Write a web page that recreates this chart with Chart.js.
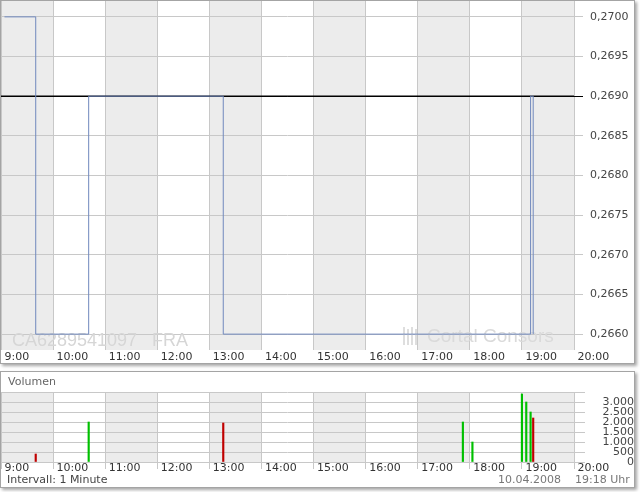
<!DOCTYPE html>
<html><head><meta charset="utf-8">
<script src="https://cdn.jsdelivr.net/npm/chart.js@4.4.1/dist/chart.umd.min.js"></script>
<style>
body{margin:0;background:#fff;font-family:"DejaVu Sans",sans-serif;}
.panel{position:absolute;left:0;border:1px solid #a4a4a4;box-shadow:2px 2px 3px rgba(0,0,0,0.35);background:#fff;}
#p1{top:0;width:633px;height:362px;}
#p2{top:371px;width:633px;height:115px;}
canvas{position:absolute;left:0;top:0;}
.lbl{position:absolute;font-size:11px;color:#555;white-space:nowrap;line-height:13px;}
</style></head><body>
<div class="panel" id="p1"><canvas id="c1" width="633" height="362"></canvas></div>
<div class="panel" id="p2"><canvas id="c2" width="633" height="115"></canvas>
<div class="lbl" style="left:7px;top:3px;color:#666">Volumen</div>
<div class="lbl" style="left:6px;top:101px;color:#444">Intervall: 1 Minute</div>
<div class="lbl" style="left:497px;top:101px;color:#777">10.04.2008</div>
<div class="lbl" style="left:574px;top:101px;color:#777">19:18 Uhr</div>
</div>
<script>
const hourTicks = [9,10,11,12,13,14,15,16,17,18,19,20];
const priceTimes = ['9:04','9:40','10:41','13:16','19:10','19:13'];
const priceValues = [0.2700,0.2660,0.2690,0.2660,0.2690,0.2660];
const refTimes = ['9:00','20:00'];
const refValues = [0.2690,0.2690];
const priceTicks = [0.2660,0.2665,0.2670,0.2675,0.2680,0.2685,0.2690,0.2695,0.2700];
const volTimes = ['9:40','10:41','13:16','17:52','18:03','19:00','19:05','19:10','19:13'];
const volValues = [400,2000,1950,2000,1000,3400,3000,2500,2200];
const volSide = ['down','up','down','up','up','up','up','up','down'];
const volTicks = [0,500,1000,1500,2000,2500,3000];
const isin = 'CA6289541097';
const exchange = 'FRA';

function toHour(s){const [h,m]=s.split(':').map(Number);return h+m/60;}
function fmtHour(v){return ' '+v+':00';}
function fmtVol(v){return String(v).replace(/\B(?=(\d{3})+(?!\d))/g,'.');}
function noPad(s){s.paddingTop=0;s.paddingBottom=0;s.paddingLeft=0;s.paddingRight=0;}

Chart.defaults.font.family='"DejaVu Sans", sans-serif';
Chart.defaults.font.size=11;
Chart.defaults.color='#333';
Chart.defaults.animation=false;

const bandPlugin={id:'bands',beforeDraw(chart){
  const {ctx,chartArea:a,scales:{x}}=chart;
  ctx.save();ctx.fillStyle='#ececec';
  for(let i=0;i<hourTicks.length-1;i+=2){
    const x0=Math.round(x.getPixelForValue(hourTicks[i])),x1=Math.round(x.getPixelForValue(hourTicks[i+1]));
    ctx.fillRect(x0,a.top,x1-x0,a.bottom-a.top);
  }
  ctx.restore();
}};
const markPlugin={id:'mark',beforeDatasetsDraw(chart){
  const {ctx}=chart;
  ctx.save();
  ctx.fillStyle='#d6d6d6';
  ctx.font='18px "Liberation Sans", Arial, sans-serif';
  ctx.textBaseline='alphabetic';
  ctx.fillText(isin,11,345);
  ctx.fillText(exchange,151,345);
  ctx.fillStyle='#dadada';
  ctx.font='19px "Liberation Sans", Arial, sans-serif';
  ctx.fillText('Cortal Consors',426,341);
  ctx.strokeStyle='#dedede';ctx.lineWidth=2;
  for(let i=0;i<4;i++){ctx.beginPath();ctx.moveTo(403+i*4,326+i%2*2);ctx.lineTo(403+i*4,344);ctx.stroke();}
  ctx.restore();
}};

const gridCol='#c8c8c8';
new Chart(document.getElementById('c1'),{
  type:'line',
  data:{datasets:[
    {data:priceTimes.map((t,i)=>({x:toHour(t),y:priceValues[i]})),borderColor:'#7088bd',borderWidth:1,stepped:true,pointRadius:0,fill:false},
    {data:refTimes.map((t,i)=>({x:toHour(t),y:refValues[i]})),borderColor:'#000',borderWidth:1.2,pointRadius:0,fill:false}
  ]},
  options:{responsive:false,devicePixelRatio:1,layout:{padding:0},
    plugins:{legend:{display:false},tooltip:{enabled:false}},
    scales:{
      x:{type:'linear',min:9,max:20,
        afterBuildTicks:s=>{s.ticks=hourTicks.map(v=>({value:v}));},
        afterFit:s=>{s.height=13;noPad(s);},
        grid:{color:gridCol,drawTicks:false},border:{display:false},
        ticks:{callback:fmtHour,align:'start',autoSkip:false,maxRotation:0,padding:1,color:'#333'}},
      y:{type:'linear',position:'right',min:0.2658,max:0.2702,
        afterBuildTicks:s=>{s.ticks=priceTicks.map(v=>({value:v}));},
        afterFit:s=>{s.width=60;noPad(s);},
        grid:{color:c=>Math.abs(c.tick.value-refValues[0])<1e-9?'#000':gridCol,tickLength:9},border:{display:false},
        ticks:{callback:v=>v.toFixed(4).replace('.',','),padding:7,autoSkip:false,color:'#444'}}
    }},
  plugins:[bandPlugin,markPlugin]
});

new Chart(document.getElementById('c2'),{
  type:'bar',
  data:{datasets:[
    {data:volTimes.map((t,i)=>({x:toHour(t),y:volValues[i]})),
     backgroundColor:volSide.map(s=>s==='up'?'#00c000':'#c00000'),barThickness:1.5,borderWidth:0}
  ]},
  options:{responsive:false,devicePixelRatio:1,layout:{padding:{top:20}},
    plugins:{legend:{display:false},tooltip:{enabled:false}},
    scales:{
      x:{type:'linear',min:9,max:20,offset:false,
        afterBuildTicks:s=>{s.ticks=hourTicks.map(v=>({value:v}));},
        afterFit:s=>{s.height=25;noPad(s);},
        grid:{color:gridCol,offset:false,tickLength:7},border:{display:false},
        ticks:{callback:fmtHour,align:'start',autoSkip:false,maxRotation:0,padding:-7,color:'#333'}},
      y:{type:'linear',position:'right',min:0,max:3500,
        afterBuildTicks:s=>{s.ticks=volTicks.concat([s.max]).map(v=>({value:v}));},
        afterFit:s=>{s.width=60;noPad(s);},
        grid:{color:gridCol,tickLength:11},border:{display:false},
        ticks:{callback:v=>volTicks.includes(v)?fmtVol(v):'',padding:7,crossAlign:'far',autoSkip:false,color:'#444'}}
    }},
  plugins:[bandPlugin]
});
</script>
</body></html>
